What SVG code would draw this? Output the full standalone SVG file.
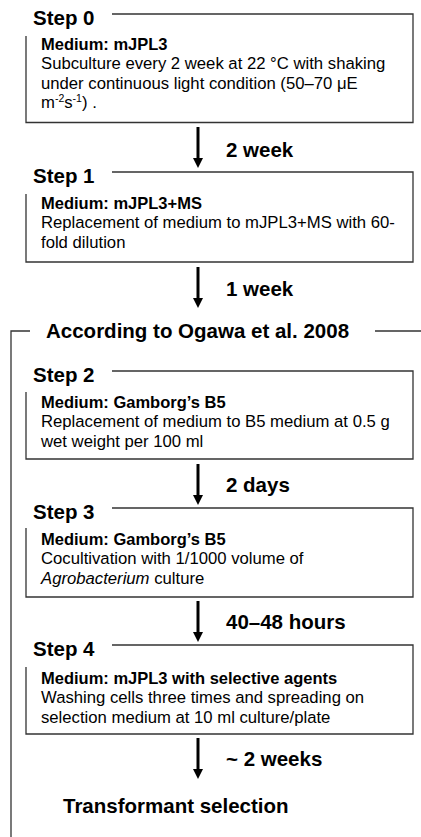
<svg xmlns="http://www.w3.org/2000/svg" width="421" height="837" viewBox="0 0 421 837">
<style>
  .frame { fill: none; stroke: #333; stroke-width: 1.3; }
  .lbl { font-family: "Liberation Sans", Arial, sans-serif; font-weight: bold; font-size: 20.5px; fill: #000; }
  .hdr { font-family: "Liberation Sans", Arial, sans-serif; font-weight: bold; font-size: 16.5px; fill: #000; }
  .body { font-family: "Liberation Sans", Arial, sans-serif; font-size: 16.7px; fill: #000; }
  .sup { font-size: 10.5px; }
  .shaft { stroke: #000; stroke-width: 3; fill: none; }
  .head { fill: #000; }
</style>
<rect width="421" height="837" fill="#fff"/>

<g id="outer">
  <path class="frame" d="M30 331 H11 V837 M375 331 H421"/>
  <text class="lbl" x="46" y="338">According to Ogawa et al. 2008</text>
</g>

<g id="step0">
  <path class="frame" d="M112 14 H413 V122.5 H26 V36"/>
  <text class="lbl" x="33" y="25">Step 0</text>
  <text class="hdr" x="41" y="50">Medium: mJPL3</text>
  <text class="body" x="41" y="69">Subculture every 2 week at 22 °C with shaking</text>
  <text class="body" x="41" y="89">under continuous light condition (50–70 μE</text>
  <text class="body" x="41" y="108">m<tspan class="sup" dy="-6">-2</tspan><tspan dy="6">s</tspan><tspan class="sup" dy="-6">-1</tspan><tspan dy="6">) .</tspan></text>
</g>

<g id="step1">
  <path class="frame" d="M112 172 H413 V262 H26 V194"/>
  <text class="lbl" x="33" y="183">Step 1</text>
  <text class="hdr" x="41" y="209">Medium: mJPL3+MS</text>
  <text class="body" x="41" y="228">Replacement of medium to mJPL3+MS with 60-</text>
  <text class="body" x="41" y="248">fold dilution</text>
</g>

<g id="step2">
  <path class="frame" d="M112 371 H413 V459 H26 V392"/>
  <text class="lbl" x="33" y="382">Step 2</text>
  <text class="hdr" x="41" y="408">Medium: Gamborg’s B5</text>
  <text class="body" x="41" y="427">Replacement of medium to B5 medium at 0.5 g</text>
  <text class="body" x="41" y="447">wet weight per 100 ml</text>
</g>

<g id="step3">
  <path class="frame" d="M112 508 H413 V597 H26 V528"/>
  <text class="lbl" x="33" y="519">Step 3</text>
  <text class="hdr" x="41" y="545">Medium: Gamborg’s B5</text>
  <text class="body" x="41" y="564">Cocultivation with 1/1000 volume of</text>
  <text class="body" x="41" y="584"><tspan font-style="italic">Agrobacterium</tspan> culture</text>
</g>

<g id="step4">
  <path class="frame" d="M112 645 H413 V734 H26 V667"/>
  <text class="lbl" x="33" y="656">Step 4</text>
  <text class="hdr" x="41" y="684">Medium: mJPL3 with selective agents</text>
  <text class="body" x="41" y="703">Washing cells three times and spreading on</text>
  <text class="body" x="41" y="723">selection medium at 10 ml culture/plate</text>
</g>

<g id="result">
  <text class="lbl" x="63" y="813">Transformant selection</text>
</g>

<g id="connectors">
  <line class="shaft" x1="198" y1="127" x2="198" y2="159"/>
  <path class="head" d="M193 158 H203 L198 168 Z"/>
  <text class="lbl" x="226" y="157">2 week</text>

  <line class="shaft" x1="198" y1="267" x2="198" y2="299"/>
  <path class="head" d="M193 298 H203 L198 308 Z"/>
  <text class="lbl" x="226" y="296">1 week</text>

  <line class="shaft" x1="198" y1="464" x2="198" y2="496"/>
  <path class="head" d="M193 495 H203 L198 505 Z"/>
  <text class="lbl" x="226" y="492">2 days</text>

  <line class="shaft" x1="198" y1="601" x2="198" y2="633"/>
  <path class="head" d="M193 632 H203 L198 642 Z"/>
  <text class="lbl" x="226" y="629">40–48 hours</text>

  <line class="shaft" x1="198" y1="738" x2="198" y2="770"/>
  <path class="head" d="M193 769 H203 L198 779 Z"/>
  <text class="lbl" x="226" y="766">~ 2 weeks</text>
</g>
</svg>
